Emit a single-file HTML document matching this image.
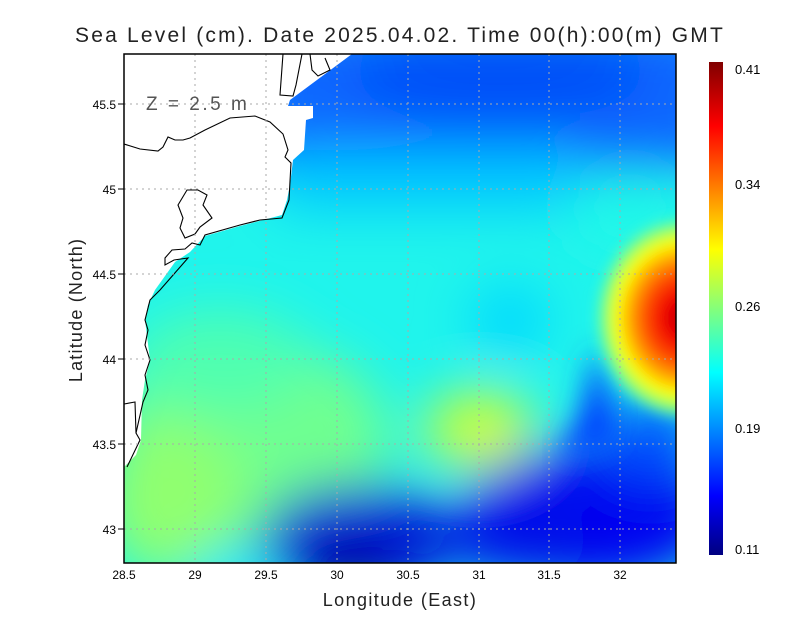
<!DOCTYPE html>
<html><head><meta charset="utf-8"><style>
body{margin:0;background:#fff;}
svg{display:block;font-family:"Liberation Sans",sans-serif;}
</style></head><body>
<svg width="800" height="618" viewBox="0 0 800 618" xmlns="http://www.w3.org/2000/svg">
<defs>
<clipPath id="pc"><rect x="124" y="54" width="552" height="509"/></clipPath>
<filter id="bl" x="-30%" y="-30%" width="160%" height="160%"><feGaussianBlur stdDeviation="26"/></filter>
<filter id="bs" x="-30%" y="-30%" width="160%" height="160%"><feGaussianBlur stdDeviation="14"/></filter>
<filter id="bl2" x="-20%" y="-20%" width="140%" height="140%"><feGaussianBlur stdDeviation="6"/></filter>
<radialGradient id="hot" cx="0.5" cy="0.5" r="0.5">
<stop offset="0" stop-color="#b00000"/>
<stop offset="0.2" stop-color="#f00000"/>
<stop offset="0.42" stop-color="#ff5000"/>
<stop offset="0.6" stop-color="#ffb000"/>
<stop offset="0.72" stop-color="#ffff00"/>
<stop offset="0.86" stop-color="#90ff70"/>
<stop offset="1" stop-color="#30ffd0" stop-opacity="0"/>
</radialGradient>
<linearGradient id="cb" x1="0" y1="1" x2="0" y2="0">
<stop offset="0" stop-color="#000080"/>
<stop offset="0.12" stop-color="#0000ff"/>
<stop offset="0.37" stop-color="#00ffff"/>
<stop offset="0.62" stop-color="#ffff00"/>
<stop offset="0.87" stop-color="#ff0000"/>
<stop offset="1" stop-color="#800000"/>
</linearGradient>
</defs>
<text x="400" y="42" text-anchor="middle" font-size="21" fill="#222" letter-spacing="2.2">Sea Level (cm). Date 2025.04.02. Time 00(h):00(m) GMT</text>
<g clip-path="url(#pc)">
<rect x="124" y="54" width="552" height="509" fill="#20f4ec"/>
<g filter="url(#bl)">
<rect x="250" y="20" width="480" height="150" fill="#0868ff"/>
<ellipse cx="500" cy="75" rx="150" ry="45" fill="#0050f8"/>
<rect x="280" y="150" width="300" height="60" fill="#00c8ff"/>
<ellipse cx="630" cy="210" rx="60" ry="40" fill="#20f8e8"/>
<ellipse cx="250" cy="440" rx="140" ry="100" fill="#70ff90"/>
<ellipse cx="170" cy="500" rx="70" ry="80" fill="#90ff70"/>
<ellipse cx="220" cy="360" rx="90" ry="50" fill="#50ffb0"/>
<ellipse cx="480" cy="430" rx="55" ry="40" fill="#d0ff30"/>
<ellipse cx="510" cy="320" rx="40" ry="35" fill="#00d8ff"/>
<ellipse cx="360" cy="540" rx="100" ry="55" fill="#0018d8"/>
<ellipse cx="350" cy="570" rx="50" ry="25" fill="#000090"/>
<ellipse cx="590" cy="515" rx="130" ry="70" fill="#0000f0"/>
<ellipse cx="520" cy="540" rx="70" ry="40" fill="#0010e8"/>
<ellipse cx="650" cy="440" rx="50" ry="40" fill="#0050ff"/>
<ellipse cx="230" cy="570" rx="40" ry="20" fill="#20e0ff"/>
</g>
<g filter="url(#bs)">
<path d="M595,345 L610,400 L620,440 L560,460 L580,420 Z" fill="#0040ff"/>
</g>
<ellipse cx="684" cy="318" rx="92" ry="105" fill="url(#hot)" filter="url(#bl2)"/>
<path d="M124,54 L352,54 L290,100 L288,106 L313,106 L313,118 L306,120 L304,150 L293,160 L290,185 L287,200 L282,215 L240,226 L205,236 L190,252 L175,262 L165,276 L155,290 L148,305 L145,320 L150,360 L145,380 L142,400 L141,440 L136,455 L124,467 Z" fill="#fff"/>
<g fill="none" stroke="#000" stroke-width="1.1">
<path d="M124,144 L140,149 L158,151 L163,147 L168,137 L175,140 L183,140 L190,138 L205,130 L230,118 L255,116 L270,122 L283,134 L288,150 L285,157 L291,163 L289,200 L282,218 L260,220 L240,225 L205,235 L200,245 L192,243 L185,249 L172,250 L165,258 L165,265 L174,260 L188,258 L160,290 L150,300 L145,320 L148,330 L145,345 L150,360 L145,375 L148,390 L143,402 L136,433 L140,440 L127,467"/>
<path d="M187,190 L198,190 L207,195 L203,205 L212,218 L200,227 L195,234 L185,238 L180,228 L183,218 L178,205 Z"/>
<path d="M124,404 L135,402 L136,433"/>
<path d="M283,54 L280,95 L293,96 L296,85 L302,54"/>
<path d="M310,54 L312,70 L318,76 L330,70 L325,58"/>
</g>
</g>
<g stroke="#aaa" stroke-width="1" stroke-dasharray="2,4">
<line x1="195" y1="54" x2="195" y2="563"/><line x1="266" y1="54" x2="266" y2="563"/><line x1="337" y1="54" x2="337" y2="563"/><line x1="408" y1="54" x2="408" y2="563"/><line x1="479" y1="54" x2="479" y2="563"/><line x1="549" y1="54" x2="549" y2="563"/><line x1="620" y1="54" x2="620" y2="563"/>
<line x1="124" y1="104" x2="676" y2="104"/><line x1="124" y1="189" x2="676" y2="189"/><line x1="124" y1="274" x2="676" y2="274"/><line x1="124" y1="359" x2="676" y2="359"/><line x1="124" y1="444" x2="676" y2="444"/><line x1="124" y1="529" x2="676" y2="529"/>
</g>
<text x="146" y="110" font-size="19" fill="#555" letter-spacing="2.5">Z = 2.5 m</text>
<rect x="124" y="54" width="552" height="509" fill="none" stroke="#000" stroke-width="1.5"/>
<g stroke="#000"><line x1="118" y1="104" x2="124" y2="104"/><line x1="118" y1="189" x2="124" y2="189"/><line x1="118" y1="274" x2="124" y2="274"/><line x1="118" y1="359" x2="124" y2="359"/><line x1="118" y1="444" x2="124" y2="444"/><line x1="118" y1="529" x2="124" y2="529"/></g>
<g font-size="12" fill="#000" text-anchor="end">
<text x="116" y="109">45.5</text><text x="116" y="194">45</text><text x="116" y="279">44.5</text><text x="116" y="364">44</text><text x="116" y="449">43.5</text><text x="116" y="534">43</text>
</g>
<g font-size="12" fill="#000" text-anchor="middle">
<text x="124" y="579">28.5</text><text x="195" y="579">29</text><text x="266" y="579">29.5</text><text x="337" y="579">30</text><text x="408" y="579">30.5</text><text x="479" y="579">31</text><text x="549" y="579">31.5</text><text x="620" y="579">32</text>
</g>
<text x="400" y="606" text-anchor="middle" font-size="18" fill="#222" letter-spacing="1.4">Longitude (East)</text>
<text transform="translate(82,310) rotate(-90)" text-anchor="middle" font-size="18" fill="#222" letter-spacing="1.2">Latitude (North)</text>
<rect x="709" y="62" width="14" height="493" fill="url(#cb)"/>
<g font-size="13" fill="#000">
<text x="735" y="74">0.41</text><text x="735" y="189">0.34</text><text x="735" y="311">0.26</text><text x="735" y="433">0.19</text><text x="735" y="554">0.11</text>
</g>
</svg>
</body></html>
